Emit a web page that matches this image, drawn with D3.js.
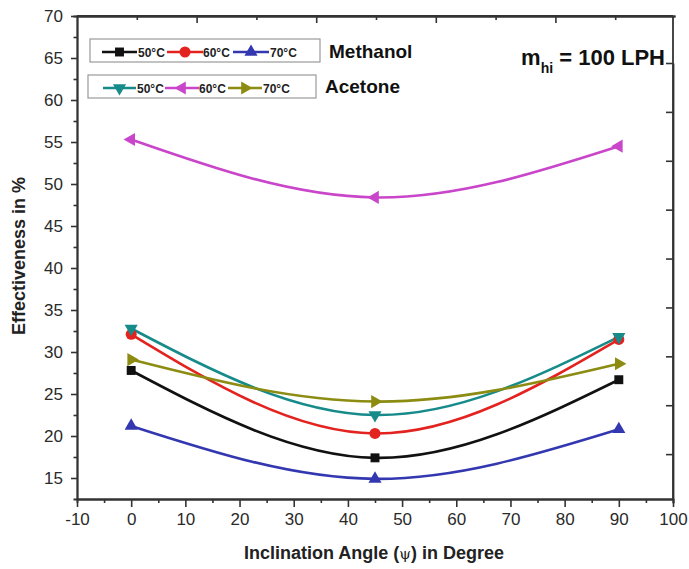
<!DOCTYPE html>
<html>
<head>
<meta charset="utf-8">
<script src="https://cdn.jsdelivr.net/npm/d3@7"></script>
<style>
	body { margin: 0; background: #fff; }
	text { font-family: "Liberation Sans", Arial, sans-serif; }
</style>
</head>
<body>
<div class="c-svg"></div>
<script>
//DATA
//-------------------------------------------------------------------------

const angles = [0, 45, 90];

const methanol50 = [27.8, 17.4, 26.7];
const methanol60 = [32.1, 20.3, 31.5];
const methanol70 = [21.2, 14.9, 20.8];

const acetone50 = [32.8, 22.5, 31.8];
const acetone60 = [55.3, 48.4, 54.5];
const acetone70 = [29.1, 24.1, 28.6];

const xTicks = [-10, 0, 10, 20, 30, 40, 50, 60, 70, 80, 90, 100];
const yTicks = [15, 20, 25, 30, 35, 40, 45, 50, 55, 60, 65, 70];

const legendLabels = ["50°C", "60°C", "70°C"];

//series setup (colour + marker)
const series = [
	{ group: "Methanol", label: legendLabels[0], values: methanol50, color: "#111111", symbol: d3.symbolSquare, rot: 0, size: 80 },
	{ group: "Methanol", label: legendLabels[1], values: methanol60, color: "#e3231f", symbol: d3.symbolCircle, rot: 0, size: 95 },
	{ group: "Methanol", label: legendLabels[2], values: methanol70, color: "#3438b0", symbol: d3.symbolTriangle, rot: 0, size: 75 },
	{ group: "Acetone", label: legendLabels[0], values: acetone50, color: "#178a8a", symbol: d3.symbolTriangle, rot: 180, size: 75 },
	{ group: "Acetone", label: legendLabels[1], values: acetone60, color: "#c945c9", symbol: d3.symbolTriangle, rot: -90, size: 75 },
	{ group: "Acetone", label: legendLabels[2], values: acetone70, color: "#8c8c12", symbol: d3.symbolTriangle, rot: 90, size: 75 }
];


//INITIALISATION
//-------------------------------------------------------------------------

const opts = {
	width: 689,
	height: 569,
	margin: { top: 16, right: 16, bottom: 70, left: 77 }
};

const inner = {
	width: opts.width - opts.margin.left - opts.margin.right,
	height: opts.height - opts.margin.top - opts.margin.bottom
};

const svg = d3.select(".c-svg")
	.append("svg")
	.attr("width", opts.width)
	.attr("height", opts.height);

const g = svg.append("g")
	.attr("transform", `translate(${opts.margin.left} ${opts.margin.top})`);

const x = d3.scaleLinear().domain([-10, 100]).range([0, inner.width]);
const y = d3.scaleLinear().domain([12.5, 70]).range([inner.height, 0]);

//mirror axes in the original are not linked to the data scales
const xTop = d3.scaleLinear().domain([0, 10]).range([0, 598]);
const yRight = d3.scaleLinear().domain([0, 9]).range([487, 47]);

//plain hyphen for negatives, like the original
const plainFormat = (d) => String(d);


//AXES
//-------------------------------------------------------------------------

const axisStyle = (sel) => {
	sel.select(".domain").attr("stroke", "#333").attr("stroke-width", 1.8);
	sel.selectAll(".tick line").attr("stroke", "#333").attr("stroke-width", 1.6);
	sel.selectAll("text")
		.attr("fill", "#2a2a2a")
		.style("font-size", "17px");
};

//minor ticks first
g.append("g")
	.attr("transform", `translate(0 ${inner.height})`)
	.call(d3.axisBottom(x).tickValues(d3.range(-5, 100, 10)).tickSize(4).tickFormat(""))
	.call(axisStyle);

g.append("g")
	.call(d3.axisLeft(y).tickValues(d3.range(17.5, 70, 5)).tickSize(3.5).tickFormat(""))
	.call(axisStyle);

g.append("g")
	.attr("class", "axis x_axis")
	.attr("transform", `translate(0 ${inner.height})`)
	.call(d3.axisBottom(x).tickValues(xTicks).tickFormat(plainFormat).tickSize(8).tickPadding(6).tickSizeOuter(0))
	.call(axisStyle);

g.append("g")
	.attr("class", "axis y_axis")
	.call(d3.axisLeft(y).tickValues(yTicks).tickFormat(plainFormat).tickSize(6).tickPadding(8).tickSizeOuter(0))
	.call(axisStyle);

//top axis, ticks inward
g.append("g")
	.call(d3.axisBottom(xTop).tickValues([1, 3, 5, 7, 9]).tickSize(4).tickFormat("").tickSizeOuter(0))
	.call(axisStyle);
g.append("g")
	.call(d3.axisBottom(xTop).tickValues([2, 4, 6, 8]).tickSize(7).tickFormat("").tickSizeOuter(0))
	.call(axisStyle);
g.append("line")
	.attr("x1", 0).attr("x2", inner.width)
	.attr("stroke", "#333").attr("stroke-width", 1.8);

//right axis, ticks inward
g.append("g")
	.attr("transform", `translate(${inner.width} 0)`)
	.call(d3.axisLeft(yRight).tickValues(d3.range(1, 10)).tickSize(7).tickFormat("").tickSizeOuter(0))
	.call(axisStyle);
g.append("line")
	.attr("x1", inner.width).attr("x2", inner.width)
	.attr("y1", 0).attr("y2", inner.height)
	.attr("stroke", "#333").attr("stroke-width", 1.8);


//AXIS TITLES
//-------------------------------------------------------------------------

const xTitle = svg.append("text")
	.attr("x", 374)
	.attr("y", 559)
	.attr("text-anchor", "middle")
	.style("font-size", "18px")
	.style("font-weight", "bold")
	.attr("fill", "#222");
xTitle.append("tspan").text("Inclination Angle (");
xTitle.append("tspan").text("ψ").style("font-weight", "normal").style("font-family", "DejaVu Serif").style("font-size", "15px");
xTitle.append("tspan").text(") in Degree");

svg.append("text")
	.attr("transform", "translate(25 256) rotate(-90)")
	.attr("text-anchor", "middle")
	.style("font-size", "18px")
	.style("font-weight", "bold")
	.attr("fill", "#222")
	.text("Effectiveness in %");


//LINES + MARKERS
//-------------------------------------------------------------------------

const line = d3.line()
	.x((d, i) => x(angles[i]))
	.y((d) => y(d))
	.curve(d3.curveNatural);

const plot = g.append("g");

series.forEach((s) => {
	plot.append("path")
		.attr("d", line(s.values))
		.attr("fill", "none")
		.attr("stroke", s.color)
		.attr("stroke-width", 2.6);
});

series.forEach((s) => {
	plot.selectAll(null)
		.data(s.values)
		.enter()
		.append("path")
		.attr("d", d3.symbol().type(s.symbol).size(s.size))
		.attr("transform", (d, i) => `translate(${x(angles[i])} ${y(d)}) rotate(${s.rot})`)
		.attr("fill", s.color);
});


//LEGEND
//-------------------------------------------------------------------------

const legendRows = [
	{ name: "Methanol", box: [90, 39, 230, 23], lineY: 52, nameX: 329, nameY: 58,
		items: [{ x0: 102, x1: 137, tx: 138 }, { x0: 167, x1: 203, tx: 203 }, { x0: 233, x1: 269, tx: 270 }] },
	{ name: "Acetone", box: [88, 75, 228, 23], lineY: 88, nameX: 325, nameY: 93,
		items: [{ x0: 103, x1: 136, tx: 137 }, { x0: 165, x1: 199, tx: 199 }, { x0: 228, x1: 262, tx: 263 }] }
];

legendRows.forEach((row) => {
	const lg = svg.append("g");
	lg.append("rect")
		.attr("x", row.box[0]).attr("y", row.box[1])
		.attr("width", row.box[2]).attr("height", row.box[3])
		.attr("fill", "#fff")
		.attr("stroke", "#999")
		.attr("stroke-width", 1.2);

	series.filter((s) => s.group === row.name).forEach((s, i) => {
		const it = row.items[i];
		lg.append("line")
			.attr("x1", it.x0).attr("x2", it.x1)
			.attr("y1", row.lineY).attr("y2", row.lineY)
			.attr("stroke", s.color)
			.attr("stroke-width", 2.6);
		lg.append("path")
			.attr("d", d3.symbol().type(s.symbol).size(s.size))
			.attr("transform", `translate(${(it.x0 + it.x1) / 2} ${row.lineY}) rotate(${s.rot})`)
			.attr("fill", s.color);
		lg.append("text")
			.attr("x", it.tx)
			.attr("y", row.lineY + 5)
			.style("font-size", "12px")
			.style("font-weight", "bold")
			.attr("fill", "#222")
			.text(s.label);
	});

	lg.append("text")
		.attr("x", row.nameX)
		.attr("y", row.nameY)
		.style("font-size", "19px")
		.style("font-weight", "bold")
		.attr("fill", "#111")
		.text(row.name);
});

//flow rate annotation
const note = svg.append("text")
	.attr("x", 665)
	.attr("y", 65)
	.attr("text-anchor", "end")
	.style("font-size", "22px")
	.style("font-weight", "bold")
	.attr("fill", "#111");
note.append("tspan").text("m");
note.append("tspan").text("hi").attr("dy", 8).style("font-size", "14px");
note.append("tspan").text(" = 100 LPH").attr("dy", -8);

</script>
</body>
</html>
